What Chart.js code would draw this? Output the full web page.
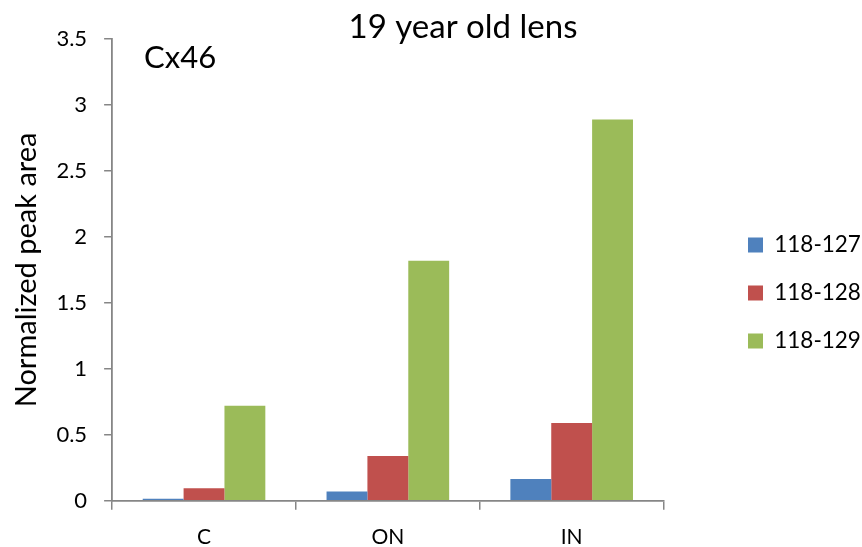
<!DOCTYPE html>
<html><head><meta charset="utf-8">
<script src="https://cdn.jsdelivr.net/npm/chart.js@4"></script>
<style>html,body{margin:0;padding:0;background:#fff}#wrap{width:862px;height:547px}</style>
</head><body><div id="wrap"><canvas id="c" width="862" height="547"></canvas></div>
<script>
const categories = ['C', 'ON', 'IN'];
const seriesNames = ['118-127', '118-128', '118-129'];
const s127 = [0.015, 0.07, 0.165];
const s128 = [0.095, 0.34, 0.59];
const s129 = [0.72, 1.82, 2.89];
const yTicks = [0, 0.5, 1, 1.5, 2, 2.5, 3, 3.5];
const titleText = '19 year old lens';
const innerText = 'Cx46';
const colors = ['#4F81BD', '#C0504D', '#9BBB59'];
const FONT = 'Lato, "Open Sans", sans-serif';

const extras = {
  id: 'extras',
  afterLayout(chart) {
    const lg = chart.legend;
    const pad = lg.options.labels.padding;
    lg.left = 748 - pad;
    lg.right = 862; lg.width = lg.right - lg.left;
    lg.top -= 9; lg.bottom -= 9;
  },
  afterDraw(chart) {
    const ctx = chart.ctx, a = chart.chartArea;
    ctx.save();
    ctx.fillStyle = '#000';
    ctx.textBaseline = 'alphabetic';
    ctx.font = '33px ' + FONT;
    ctx.textAlign = 'center';
    ctx.fillText(titleText, 463, 38);
    ctx.font = '31px ' + FONT;
    ctx.textAlign = 'left';
    ctx.fillText(innerText, a.left + 32, a.top + 29);
    ctx.restore();
  }
};

new Chart(document.getElementById('c'), {
  type: 'bar',
  data: {
    labels: categories,
    datasets: [s127, s128, s129].map((d, i) => ({
      label: seriesNames[i], data: d, backgroundColor: colors[i],
      categoryPercentage: 0.667, barPercentage: 1.0
    }))
  },
  options: {
    responsive: false, animation: false,
    layout: { padding: { left: 2, right: 50, top: 39, bottom: -18 } },
    plugins: {
      title: { display: false },
      legend: { position: 'right', align: 'center',
        labels: { boxWidth: 15, boxHeight: 15, padding: 25.5, color: '#000',
          font: { family: FONT, size: 22.5 } } },
      tooltip: { enabled: false }
    },
    scales: {
      x: {
        grid: { display: true, drawOnChartArea: false, offset: true, tickLength: 9, color: '#868686', lineWidth: 1.5 },
        border: { color: '#868686', width: 1.8 },
        ticks: { color: '#000', font: { family: FONT, size: 21 }, padding: 15 }
      },
      y: {
        min: 0, max: 3.5,
        afterBuildTicks(scale) { scale.ticks = yTicks.map(v => ({ value: v })); },
        grid: { display: true, drawOnChartArea: false, tickLength: 8, color: '#868686', lineWidth: 1.5 },
        border: { color: '#868686', width: 1.8 },
        ticks: { color: '#000', font: { family: FONT, size: 22 }, padding: 17,
          callback: v => String(v) },
        title: { display: true, text: 'Normalized peak area', color: '#000',
          font: { family: FONT, size: 29, lineHeight: 0.6 }, padding: { top: 16, bottom: 4 } }
      }
    }
  },
  plugins: [extras]
});
</script></body></html>
